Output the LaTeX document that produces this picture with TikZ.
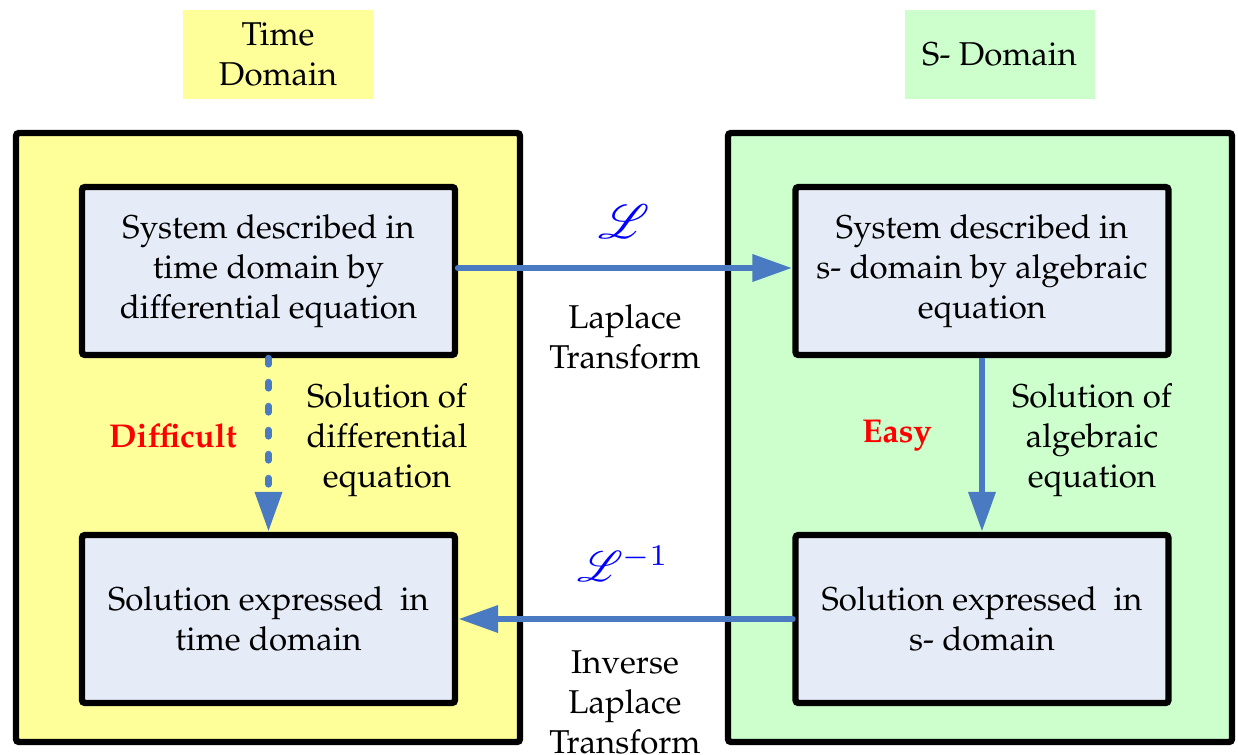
\documentclass[tikz,border=0pt]{standalone}
\usepackage[T1]{fontenc}
\renewcommand{\rmdefault}{ppl}
\usepackage{mathrsfs}
\usetikzlibrary{arrows.meta}
\definecolor{ylw}{HTML}{FFFF99}
\definecolor{grn}{HTML}{CCFFCC}
\definecolor{inner}{HTML}{E6ECF7}
\definecolor{arr}{HTML}{4A7BC2}
\definecolor{lblue}{HTML}{0000FF}
\definecolor{hard}{HTML}{FF0000}
\begin{document}
\begin{tikzpicture}[x=0.5pt,y=-0.5pt,
  txt/.style={font=\fontsize{16.5}{20}\selectfont, align=center, inner sep=0pt},
  outerbox/.style={draw=black, line width=3.2pt, rounded corners=1.5pt, minimum width=252pt, minimum height=304.5pt, inner sep=0pt},
  innerbox/.style={draw=black, line width=3.2pt, rounded corners=1.5pt, fill=inner, minimum width=186.5pt, minimum height=84pt, txt},
  hdr/.style={minimum width=95pt, minimum height=44.5pt, txt},
  conn/.style={draw=arr, line width=3.4pt, -{Triangle[length=20pt,width=13pt]}},
  warn/.style={font=\fontsize{16.5}{20}\selectfont\bfseries, text=hard, inner sep=0pt},
  lap/.style={text=lblue, inner sep=0pt}]
\useasboundingbox (0,0) rectangle (1238,755);
% headers
\node[hdr, fill=ylw] (th) at (278,54.5) {Time\\Domain};
\node[hdr, fill=grn] (sh) at (999.5,54.5) {S- Domain};
% outer boxes
\node[outerbox, fill=ylw] (lo) at (268,437.5) {};
\node[outerbox, fill=grn] (ro) at (980,437.5) {};
% inner boxes
\node[innerbox] (a) at (268.5,271) {System described in\\time domain by\\differential equation};
\node[innerbox] (b) at (268.5,619) {Solution expressed\ \ in\\time domain};
\node[innerbox] (c) at (982,271) {System described in\\s- domain by algebraic\\equation};
\node[innerbox] (d) at (982,619) {Solution expressed\ \ in\\s- domain};
% connectors
\draw[conn, line cap=round] (a.east |- 0,268) -- (c.west |- 0,268);
\draw[conn, line cap=round] (d.west) -- (b.east);
\draw[conn] (c.south) -- (d.north);
\draw[conn, line cap=round, dash pattern=on 3pt off 9pt] (a.south) -- (b.north);
% labels
\node[lap] (l1) at (624,222) {\scalebox{2.4}{$\mathscr{L}$}};
\node[lap] (l2) at (623,564) {\scalebox{2.15}{$\mathscr{L}^{-1}$}};
\node[txt] (lt) at (625,337) {Laplace\\Transform};
\node[txt] (ilt) at (625,702) {Inverse\\Laplace\\Transform};
\node[txt] (sd) at (387,440) {Solution of\\differential\\equation};
\node[txt] (sa) at (1092,440) {Solution of\\algebraic\\equation};
\node[warn] (df) at (173,436) {Difficult};
\node[warn] (ez) at (897,436) {Easy};
\end{tikzpicture}
\end{document}
